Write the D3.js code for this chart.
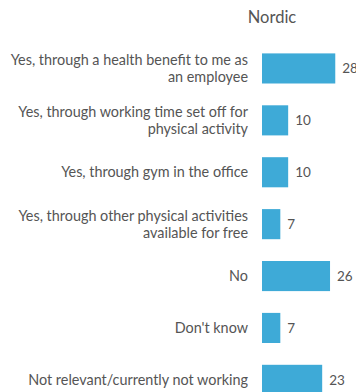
<!DOCTYPE html>
<html>
<head>
  <meta charset="utf-8">
  <title>Nordic</title>
  <script src="https://d3js.org/d3.v7.min.js"></script>
  <style>
    body { margin: 0; background: #fff; }
    text { font-family: Lato, sans-serif; fill: #555; }
  </style>
</head>
<body>
  <script>
    var categories = [
      'Yes, through a health benefit to me as\nan employee',
      'Yes, through working time set off for\nphysical activity',
      'Yes, through gym in the office',
      'Yes, through other physical activities\navailable for free',
      'No',
      "Don't know",
      'Not relevant/currently not working'
    ];
    var values = [28, 10, 10, 7, 26, 7, 23];
    var seriesName = 'Nordic';

    var width = 356, height = 392;
    var barLeft = 262, labelRight = 248;

    var svg = d3.select('body')
      .append('svg')
      .attr('width', width)
      .attr('height', height);

    var x = d3.scaleLinear()
      .domain([0, 30])
      .range([0, 78.5]);

    var y = d3.scaleBand()
      .domain(categories)
      .range([42.5, 42.5 + 7 * 51.9])
      .paddingInner(0.42)
      .paddingOuter(0.21);

    svg.append('text')
      .attr('x', 272)
      .attr('y', 23)
      .attr('text-anchor', 'middle')
      .style('font-size', '16.5px')
      .text(seriesName);

    var rows = svg.selectAll('.row')
      .data(categories)
      .enter()
      .append('g')
      .attr('class', 'row');

    rows.append('rect')
      .attr('x', barLeft)
      .attr('y', function(d) { return y(d); })
      .attr('width', function(d, i) { return x(values[i]); })
      .attr('height', y.bandwidth())
      .attr('fill', '#3eaad7');

    rows.append('text')
      .attr('x', function(d, i) { return barLeft + x(values[i]) + 7; })
      .attr('y', function(d) { return y(d) + y.bandwidth() / 2; })
      .attr('dy', '0.35em')
      .style('font-size', '13.5px')
      .text(function(d, i) { return values[i]; });

    rows.append('text')
      .attr('text-anchor', 'end')
      .style('font-size', '14.4px')
      .each(function(d) {
        var lines = d.split('\n');
        var cy = y(d) + y.bandwidth() / 2;
        var lh = 17;
        var top = cy - (lines.length - 1) * lh / 2;
        var t = d3.select(this);
        lines.forEach(function(line, k) {
          t.append('tspan')
            .attr('x', labelRight)
            .attr('y', top + k * lh)
            .attr('dy', '0.35em')
            .text(line);
        });
      });
  </script>
</body>
</html>
